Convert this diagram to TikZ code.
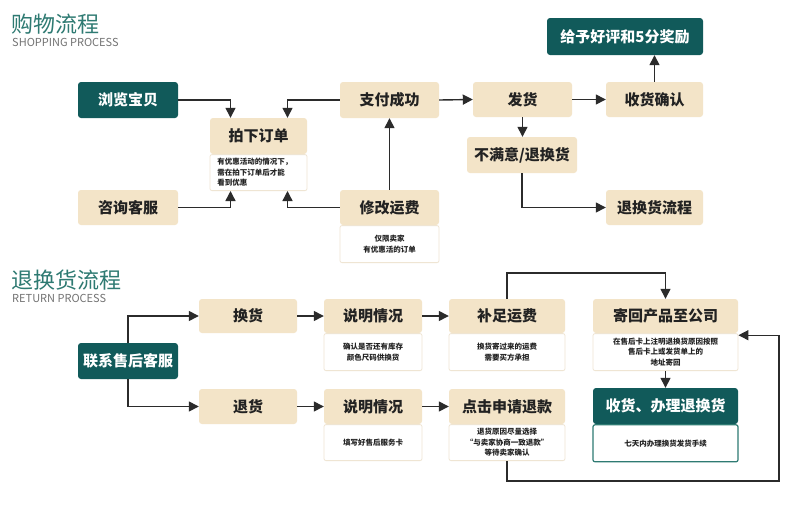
\documentclass[tikz,border=0pt]{standalone}
\usepackage{fontspec}
\setmainfont{Noto Sans CJK SC}
\usetikzlibrary{arrows.meta,calc}
\definecolor{beige}{HTML}{F3E4C8}
\definecolor{darkteal}{HTML}{115A5A}
\definecolor{titleteal}{HTML}{2E7A72}
\definecolor{subline}{HTML}{EFE5D3}
\definecolor{linecol}{HTML}{2B2B2B}
\definecolor{txt}{HTML}{222222}
\begin{document}
\begin{tikzpicture}[x=1pt,y=-1pt,
  hdr/.style={fill=beige,rounded corners=3pt,inner sep=0pt,text=txt,font=\bfseries\fontsize{15}{17}\selectfont},
  dark/.style={fill=darkteal,rounded corners=3pt,inner sep=0pt,text=white,font=\bfseries\fontsize{15}{17}\selectfont},
  sub/.style={fill=white,draw=subline,line width=0.8pt,rounded corners=2pt,inner sep=0pt,text=txt,align=center,font=\bfseries\fontsize{7.5}{10.5}\selectfont,anchor=north},
  arr/.style={draw=linecol,line width=1.4pt,-{Triangle[length=10pt,width=10pt]}},
  ttl/.style={anchor=north west,inner sep=0pt,text=titleteal,font=\fontsize{22}{24}\selectfont},
  ttlen/.style={anchor=north west,inner sep=0pt,text=black!55,font=\fontsize{11}{12}\selectfont}
]
\useasboundingbox[fill=white] (0,0) rectangle (790,515);

% titles
\node[ttl] (t1) at (11,14) {购物流程};
\node[ttlen] (t1e) at (12,38) {SHOPPING PROCESS};
\node[ttl] (t2) at (11,270) {退换货流程};
\node[ttlen] (t2e) at (12,294) {RETURN PROCESS};

% shopping nodes
\node[dark,minimum width=100pt,minimum height=36pt] (browse) at (128,100) {浏览宝贝};
\node[hdr,minimum width=97pt,minimum height=36pt] (order) at (258.5,136) {拍下订单};
\node[sub,minimum width=97pt,minimum height=36pt,align=left] (ordersub) at (order.south) {有优惠活动的情况下，\\需在拍下订单后才能\\看到优惠\hphantom{后才能看到优惠}};
\node[hdr,minimum width=100pt,minimum height=35pt] (consult) at (128,207.5) {咨询客服};
\node[hdr,minimum width=99pt,minimum height=36pt] (pay) at (389.5,100) {支付成功};
\node[hdr,minimum width=99pt,minimum height=35pt] (modify) at (389.5,207.5) {修改运费};
\node[sub,minimum width=99pt,minimum height=37pt] (modifysub) at (modify.south) {仅限卖家\\有优惠活的订单};
\node[hdr,minimum width=99pt,minimum height=35pt] (ship) at (522.5,99.5) {发货};
\node[hdr,minimum width=97pt,minimum height=35pt] (confirm) at (654.5,99.5) {收货确认};
\node[dark,minimum width=156pt,minimum height=37pt] (praise) at (625,36.5) {给予好评和5分奖励};
\node[hdr,minimum width=110pt,minimum height=36pt] (unsat) at (522,155) {不满意/退换货};
\node[hdr,minimum width=97pt,minimum height=35pt] (rflow) at (654.5,207.5) {退换货流程};

% shopping arrows
\draw[arr] (browse.east) -| ([xshift=-28pt]order.north);
\draw[arr] (pay.west) -| ([xshift=29pt]order.north);
\draw[arr] (consult.east) -| ([xshift=-28pt]ordersub.south);
\draw[arr] (modify.west) -| ([xshift=29pt]ordersub.south);
\draw[arr] (modify.north) -- (pay.south);
\draw[arr] (pay.east) -- (ship.west);
\draw[arr] (ship.east) -- (confirm.west);
\draw[arr] (confirm.north) -- (confirm.north |- praise.south);
\draw[arr] (ship.south) -- (ship.south |- unsat.north);
\draw[arr] (unsat.south) |- (rflow.west);

% return nodes
\node[dark,minimum width=100pt,minimum height=36pt] (contact) at (128,361) {联系售后客服};
\node[hdr,minimum width=98pt,minimum height=34pt] (exch) at (248,316) {换货};
\node[hdr,minimum width=98pt,minimum height=35pt] (ret) at (248,406.5) {退货};
\node[hdr,minimum width=98pt,minimum height=34pt] (expa) at (373,316) {说明情况};
\node[sub,minimum width=98pt,minimum height=37pt] (expasub) at (expa.south) {确认是否还有库存\\颜色尺码供换货};
\node[hdr,minimum width=98pt,minimum height=35pt] (expb) at (373,406.5) {说明情况};
\node[sub,minimum width=98pt,minimum height=36pt] (expbsub) at (expb.south) {填写好售后服务卡};
\node[hdr,minimum width=116pt,minimum height=34pt] (fee) at (507,316) {补足运费};
\node[sub,minimum width=116pt,minimum height=37pt] (feesub) at (fee.south) {换货寄过来的运费\\需要买方承担};
\node[hdr,minimum width=116pt,minimum height=35pt] (refund) at (507,406.5) {点击申请退款};
\node[sub,minimum width=116pt,minimum height=36pt] (refundsub) at (refund.south) {退货原因尽量选择\\“与卖家协商一致退款”\\等待卖家确认};
\node[hdr,minimum width=145pt,minimum height=34pt] (sendback) at (665.5,316) {寄回产品至公司};
\node[sub,minimum width=145pt,minimum height=37pt] (sendbacksub) at (sendback.south) {在售后卡上注明退换货原因按照\\售后卡上或发货单上的\\地址寄回};
\node[dark,minimum width=145pt,minimum height=36pt] (receive) at (665.5,406) {收货、办理退换货};
\node[sub,draw=titleteal,line width=1.2pt,minimum width=145pt,minimum height=37pt] (receivesub) at (receive.south) {七天内办理换货发货手续};

% return arrows
\draw[arr] (contact.north) |- (exch.west);
\draw[arr] (contact.south) |- (ret.west);
\draw[arr] (exch.east) -- (expa.west);
\draw[arr] (ret.east) -- (expb.west);
\draw[arr] (expa.east) -- (fee.west);
\draw[arr] (expb.east) -- (refund.west);
\draw[arr] (fee.north) -- ++(0,-26) -| (sendback.north);
\coordinate (loopr) at (779,481);
\draw[arr] (refundsub.south) |- (loopr) |- ([yshift=-2pt]sendbacksub.north east);
\draw[arr] (sendbacksub.south) -- (receive.north);
\end{tikzpicture}
\end{document}
